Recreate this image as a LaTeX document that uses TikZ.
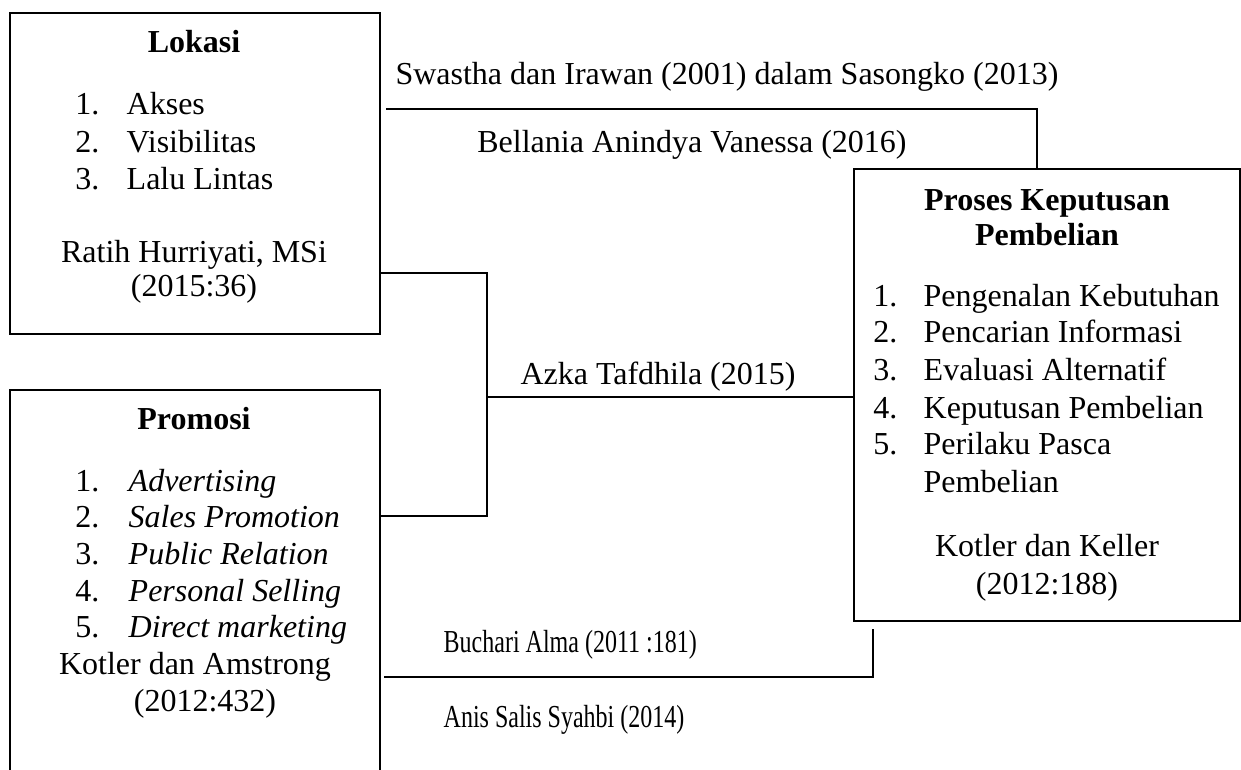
\documentclass[tikz,border=0pt]{standalone}
\usepackage{graphicx}
\usepackage{fontspec}
\setmainfont{Liberation Serif}
\usetikzlibrary{calc}
\tikzstyle{box}=[draw,line width=0.6pt,inner sep=0pt]
\tikzstyle{link}=[line width=0.45pt]
\tikzstyle{txt}=[inner sep=0pt,anchor=base,font=\fontsize{9.1}{10.5}\selectfont]
\tikzstyle{num}=[txt,anchor=base east]
\tikzstyle{itm}=[txt,anchor=base west]
\newcommand{\listitems}[4]{% prefix, x of numbers, x of items, baseline/text pairs
  \foreach \y/\t [count=\i] in {#4} {
    \node[num] (#1n\i) at (#2,\y) {\i.};
    \node[itm] (#1\i) at (#3,\y) {\t};
  }
}
\newcommand{\narrow}[1]{\scalebox{0.75}[1]{#1}} % the bottom labels are set condensed

\begin{document}
\begin{tikzpicture}[x=0.01cm,y=-0.01cm]
	\useasboundingbox (0,0) rectangle (1241,770);
	\clip (0,0) rectangle (1241,770);
	% boxes
	\node[box,minimum width=3.7cm,minimum height=3.21cm] (lokasi) at (195,173.5) {};
	\node[box,anchor=north,minimum width=3.7cm,minimum height=4.2cm] (promosi) at (195,389) {};
	\node[box,minimum width=3.855cm,minimum height=4.52cm] (proses) at (1046.75,395) {};
	% Lokasi
	\node[txt,font=\fontsize{9.1}{10.5}\selectfont\bfseries] (lokT) at (194,53) {Lokasi};
	\listitems{lok}{100}{126}{115/Akses,153/Visibilitas,190/Lalu Lintas}
	\node[txt] (lokR1) at (194,263) {Ratih Hurriyati, MSi};
	\node[txt] (lokR2) at (194,297) {(2015:36)};
	% Promosi
	\node[txt,font=\fontsize{9.1}{10.5}\selectfont\bfseries] (proT) at (194,430) {Promosi};
	\listitems{pro}{100}{128}{492/\textit{Advertising},528/\textit{Sales Promotion},565/\textit{Public Relation},602/\textit{Personal Selling},638/\textit{Direct marketing}}
	\node[txt] (proR1) at (195,675) {Kotler dan Amstrong};
	\node[txt] (proR2) at (205,712) {(2012:432)};
	% Proses Keputusan Pembelian
	\node[txt,font=\fontsize{9.1}{10.5}\selectfont\bfseries] (kepT1) at (1047,211) {Proses Keputusan};
	\node[txt,font=\fontsize{9.1}{10.5}\selectfont\bfseries] (kepT2) at (1047,246) {Pembelian};
	\listitems{kep}{898}{923}{307/Pengenalan Kebutuhan,343/Pencarian Informasi,381/Evaluasi Alternatif,419/Keputusan Pembelian,455/Perilaku Pasca}
	\node[itm] (kep5b) at (923,493) {Pembelian};
	\node[txt] (kepR1) at (1047,557) {Kotler dan Keller};
	\node[txt] (kepR2) at (1047,595) {(2012:188)};
	% connectors
	\coordinate (join) at (487,397);
	\draw[link] (lokasi.east |- 0,273) -| (join);
	\draw[link] (promosi.east |- 0,516) -| (join);
	\draw[link] (join) -- (proses.west |- join);
	\draw[link,shorten <=0.05cm] (lokasi.east |- 0,109) -| (proses.north -| 1037,0);
	\draw[link,shorten <=0.03cm,shorten >=0.07cm] (promosi.east |- 0,677) -| (proses.south -| 873,0);
	% references on the connectors
	\node[txt] (swastha) at (727,85) {Swastha dan Irawan (2001) dalam Sasongko (2013)};
	\node[txt] (bellania) at (692,153) {Bellania Anindya Vanessa (2016)};
	\node[txt] (azka) at (658,385) {Azka Tafdhila (2015)};
	\node[itm] (buchari) at (443,653) {\narrow{Buchari Alma (2011 :181)}};
	\node[itm] (anis) at (443,728) {\narrow{Anis Salis Syahbi (2014)}};
\end{tikzpicture}
\end{document}
